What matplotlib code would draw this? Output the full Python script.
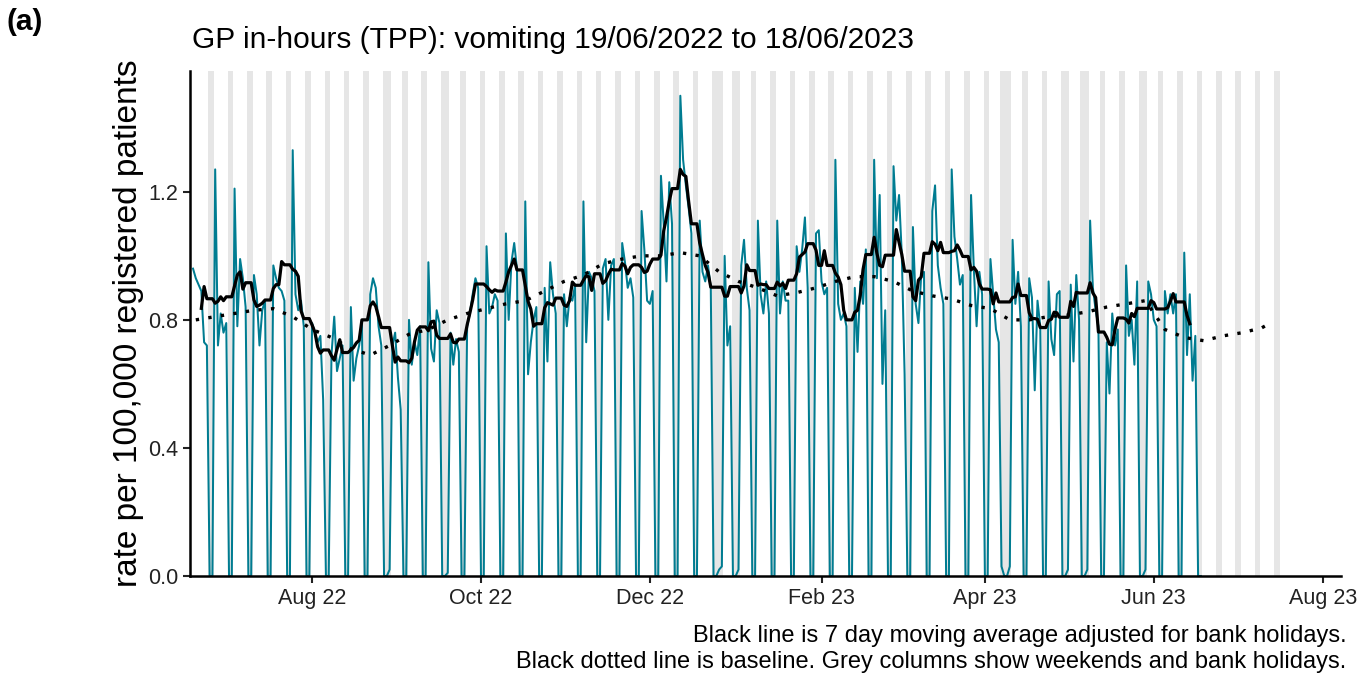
import numpy as np
import pandas as pd
import matplotlib
matplotlib.use("Agg")
import matplotlib.pyplot as plt
import matplotlib.dates as mdates

plt.rcParams["font.family"] = ["Liberation Sans", "DejaVu Sans"]

# daily rate per 100,000, first day is Sun 19/06/2022, then Mon-Fri per week
first_day_rate = 0.96
weekly_rates = [
    [0.93, 0.91, 0.89, 0.73, 0.72],  # 20 Jun 22
    [1.27, 0.72, 0.82, 0.76, 0.79],
    [1.21, 0.78, 0.99, 0.93, 0.84],
    [0.94, 0.88, 0.72, 0.83, 0.86],
    [0.97, 0.93, 0.90, 0.89, 0.86],
    [1.33, 0.88, 0.83, 0.86, 0.78],
    [0.79, 0.76, 0.73, 0.75, 0.55],  # 01 Aug 22
    [0.69, 0.81, 0.64, 0.68, 0.72],
    [0.84, 0.61, 0.68, 0.72, 0.79],
    [0.88, 0.93, 0.90, 0.78, 0.72],
    [0.02, 0.72, 0.76, 0.62, 0.52],
    [0.80, 0.66, 0.73, 0.69, 0.78],  # 05 Sep 22
    [0.98, 0.71, 0.67, 0.83, 0.79],
    [0.01, 0.76, 0.66, 0.74, 0.70],
    [0.78, 0.82, 0.88, 0.93, 0.90],
    [1.03, 0.82, 0.84, 0.88, 0.86],  # 03 Oct 22
    [1.07, 0.80, 0.98, 1.04, 0.96],
    [1.17, 0.63, 0.73, 0.80, 0.84],
    [0.90, 0.67, 0.98, 0.88, 0.82],
    [0.88, 0.78, 0.87, 0.86, 0.91],
    [1.17, 0.73, 0.95, 0.93, 0.89],  # 07 Nov 22
    [0.96, 0.99, 0.80, 0.97, 0.99],
    [1.04, 0.98, 0.90, 0.93, 0.87],
    [1.14, 1.02, 0.86, 0.85, 0.89],
    [1.25, 1.10, 0.92, 1.23, 1.10],  # 05 Dec 22
    [1.50, 1.30, 1.22, 1.15, 1.07],
    [1.11, 0.95, 0.92, 0.97, 0.90],
    [0.02, 0.03, 1.00, 0.72, 0.78],
    [0.02, 0.97, 1.05, 0.90, 0.83],  # 02 Jan 23
    [1.11, 0.88, 0.82, 0.92, 0.82],
    [1.11, 0.82, 0.92, 0.86, 0.86],
    [1.03, 0.95, 1.02, 1.12, 0.90],
    [1.07, 1.08, 0.92, 0.88, 0.90],
    [1.30, 0.85, 0.80, 0.82, 0.78],  # 06 Feb 23
    [0.90, 0.70, 0.92, 0.85, 1.02],
    [1.30, 0.93, 1.19, 0.60, 0.83],
    [1.28, 1.11, 1.19, 1.00, 0.63],
    [1.09, 0.85, 0.79, 0.94, 0.95],  # 06 Mar 23
    [1.14, 1.22, 0.97, 0.90, 0.85],
    [1.27, 1.06, 0.99, 0.91, 0.94],
    [1.19, 0.96, 0.78, 0.95, 0.88],
    [0.99, 0.88, 0.77, 0.73, 0.03],  # 03 Apr 23
    [0.03, 1.05, 0.85, 0.95, 0.78],
    [0.93, 0.87, 0.58, 0.86, 0.78],
    [0.92, 0.74, 0.69, 0.88, 0.89],
    [0.02, 0.91, 0.67, 0.94, 0.80],  # 01 May 23
    [0.02, 1.11, 0.90, 0.83, 0.78],
    [0.73, 0.57, 0.82, 0.72, 0.77],
    [0.97, 0.75, 0.80, 0.66, 0.92],
    [0.02, 0.92, 0.88, 0.80, 0.78],
    [0.89, 0.82, 0.88, 0.82, 0.88],  # 05 Jun 23
    [1.01, 0.69, 0.88, 0.61, 0.75],
]

bank_holidays = [
    "2022-08-29", "2022-09-19", "2022-12-26", "2022-12-27", "2023-01-02",
    "2023-04-07", "2023-04-10", "2023-05-01", "2023-05-08", "2023-05-29",
]

# baseline, read weekly (Mondays)
baseline_start = "2022-06-20"
baseline = [
    0.80, 0.81, 0.82, 0.83, 0.835, 0.81, 0.77, 0.745, 0.71, 0.69,
    0.72, 0.755, 0.77, 0.80, 0.82, 0.835, 0.85, 0.86, 0.89, 0.92,
    0.94, 0.975, 0.99, 1.00, 1.00, 1.01, 1.00, 0.95, 0.92, 0.90,
    0.875, 0.885, 0.90, 0.92, 0.935, 0.935, 0.92, 0.89, 0.875, 0.865,
    0.845, 0.835, 0.80, 0.80, 0.81, 0.815, 0.825, 0.84, 0.85, 0.86,
    0.77, 0.745, 0.735, 0.75, 0.76, 0.775, 0.785,
]

shade_until = "2023-07-16"
xticks = ["2022-08-01", "2022-10-01", "2022-12-01", "2023-02-01",
          "2023-04-01", "2023-06-01", "2023-08-01"]

# build the daily series
rates = [first_day_rate]
for wk in weekly_rates:
    rates += wk + [0.0, 0.0]
dates = pd.date_range("2022-06-19", periods=len(rates), freq="D")
s = pd.Series(rates, index=dates)

bh = pd.to_datetime(bank_holidays)
working = (dates.dayofweek < 5) & ~dates.isin(bh)
# moving average over working days only, held flat over weekends / bank holidays
ma_work = s[working].rolling(5, center=True).mean()
ma = ma_work.reindex(dates).ffill()
ma[ma.index > ma_work.last_valid_index()] = np.nan

base_dates = list(pd.date_range(baseline_start, periods=len(baseline) - 1, freq="7D"))
base_dates.append(pd.Timestamp("2023-07-12"))

shade_days = pd.date_range("2022-06-25", shade_until, freq="D")
shade_days = shade_days[(shade_days.dayofweek >= 5) | shade_days.isin(bh)]

fig = plt.figure(figsize=(13.57, 6.74), dpi=100)
ax = fig.add_axes([0.140, 0.1454, 0.848, 0.7496])

for d in mdates.date2num(shade_days):
    ax.axvspan(d - 0.5, d + 0.5, color="#e6e6e6", lw=0, zorder=0)

ax.plot(mdates.date2num(dates), s.values, color="#007c91", lw=1.45, zorder=2)
ax.plot(mdates.date2num(base_dates), baseline, color="black", lw=2.4,
        ls=(0, (1, 2.8)), zorder=3)
ax.plot(mdates.date2num(dates), ma.values, color="black", lw=2.3, zorder=4)

x0 = mdates.date2num(pd.Timestamp("2022-06-19")) - 1.1
ax.set_xlim(x0, x0 + 1150 / 2.767)
ax.set_ylim(0, 1.578)
ax.set_yticks([0.0, 0.4, 0.8, 1.2])
ax.set_yticklabels(["0.0", "0.4", "0.8", "1.2"])
ax.set_xticks(mdates.date2num(pd.to_datetime(xticks)))
ax.set_xticklabels([pd.Timestamp(t).strftime("%b %y") for t in xticks])

for side in ["top", "right"]:
    ax.spines[side].set_visible(False)
for side in ["left", "bottom"]:
    ax.spines[side].set_linewidth(1.8)
ax.tick_params(labelsize=15.5, length=5, width=1.5, colors="#222222",
               labelcolor="#222222")

ax.set_ylabel("rate per 100,000 registered patients", fontsize=24, labelpad=3)
fig.text(0.1415, 0.94, "GP in-hours (TPP): vomiting 19/06/2022 to 18/06/2023",
         fontsize=21.5, va="center", ha="left")
fig.text(0.005, 0.968, "(a)", fontsize=21.5, fontweight="bold", va="center")
fig.text(0.992, 0.057, "Black line is 7 day moving average adjusted for bank holidays.",
         fontsize=17, ha="right", va="center")
fig.text(0.992, 0.018, "Black dotted line is baseline. Grey columns show weekends and bank holidays.",
         fontsize=17, ha="right", va="center")

fig.savefig("out.png", dpi=100)
